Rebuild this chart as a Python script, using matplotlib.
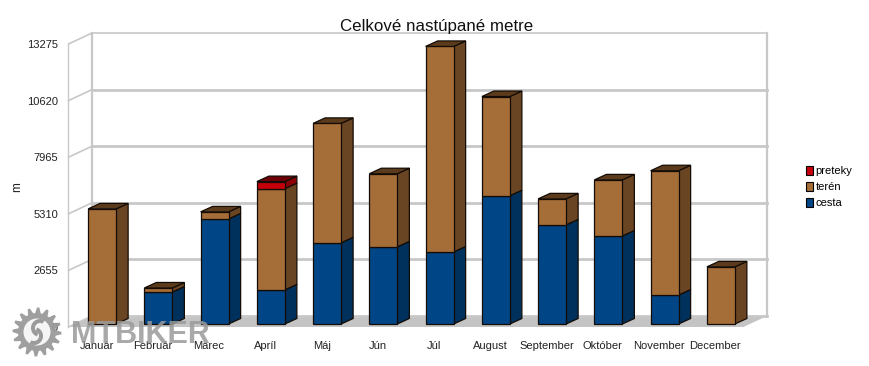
import numpy as np
import matplotlib
matplotlib.use("Agg")
import matplotlib.pyplot as plt
from matplotlib.patches import Polygon, Patch, Circle, Wedge

plt.rcParams["font.family"] = ["Liberation Sans", "DejaVu Sans"]

months = ["Január", "Február", "Marec", "Apríl", "Máj", "Jún", "Júl", "August",
          "September", "Október", "November", "December"]
cesta = [0, 1500, 4930, 1600, 3810, 3620, 3380, 6020, 4650, 4130, 1360, 0]
teren = [5400, 190, 330, 4750, 5600, 3430, 9640, 4650, 1220, 2630, 5830, 2680]
preteky = [0, 0, 0, 330, 0, 0, 0, 0, 0, 0, 0, 0]
y_ticks = [0, 2655, 5310, 7965, 10620, 13275]

W, H = 870, 366
LEFT, RIGHT, TOP, BOTTOM = 68.5, 743.5, 44, 327
PX_X = 12 / (RIGHT - LEFT)          # one pixel in category units
PX_Y = 13275 / (BOTTOM - TOP)       # one pixel in metres

fig = plt.figure(figsize=(W / 100, H / 100), dpi=100)
ax = fig.add_axes([LEFT / W, 1 - BOTTOM / H, (RIGHT - LEFT) / W, (BOTTOM - TOP) / H])
ax.set_xlim(-0.5, 11.5)
ax.set_ylim(0, 13275)
for s in ax.spines.values():
    s.set_visible(False)

wall = "#c8c8c8"
back_x, back_y = 23.5 * PX_X, 11 * PX_Y
x0, x1 = -0.5, 11.5

# walls and floor
ax.add_patch(Polygon([(x0, 0), (x1, 0), (x1 + back_x, back_y), (x0 + back_x, back_y)],
                     fc="#c4c4c4", ec="none", clip_on=False, zorder=1))
for v in y_ticks:
    lw = 1.2 if v == 13275 else 2
    ax.plot([x0 + back_x, x1 + back_x], [v + back_y] * 2, color=wall, lw=lw, clip_on=False, zorder=2)
    ax.plot([x0, x0 + back_x], [v, v + back_y], color=wall, lw=1.2, clip_on=False, zorder=2)
ax.plot([x0, x0], [0, 13275], color=wall, lw=1, clip_on=False, zorder=2)
ax.plot([x0 + back_x] * 2, [back_y, 13275 + back_y], color=wall, lw=1.6, clip_on=False, zorder=2)
ax.plot([x1 + back_x] * 2, [back_y, 13275 + back_y], color=wall, lw=1.6, clip_on=False, zorder=2)

# bars
series = [(cesta, "#004586", "#00305c", "#00284e"),
          (teren, "#a56d37", "#6a4523", "#5c3b1d"),
          (preteky, "#c5000b", "#8c0008", "#6e0006")]
bar_w = 28 * PX_X
off_x, off_y = 5.5 * PX_X, 3 * PX_Y
depth_x, depth_y = 12 * PX_X, 5.5 * PX_Y
for i in range(len(months)):
    base = 0
    left = i + off_x - bar_w / 2
    right = left + bar_w
    segs = [(s[0][i], s[1], s[2], s[3]) for s in series if s[0][i] > 0]
    for j, (val, front, side, top) in enumerate(segs):
        y0, y1 = base + off_y, base + val + off_y
        ax.add_patch(Polygon([(right, y0), (right, y1), (right + depth_x, y1 + depth_y), (right + depth_x, y0 + depth_y)],
                             fc=side, ec="#140c04", lw=0.9, clip_on=False, zorder=3 + i))
        ax.bar(i + off_x, val, bar_w, bottom=y0, color=front, edgecolor="#140c04", lw=0.9,
               clip_on=False, zorder=3 + i)
        if j == len(segs) - 1:
            ax.add_patch(Polygon([(left, y1), (right, y1), (right + depth_x, y1 + depth_y), (left + depth_x, y1 + depth_y)],
                                 fc=top, ec="#140c04", lw=0.9, clip_on=False, zorder=3 + i))
        base += val

ax.set_xticks(range(len(months)))
ax.set_xticklabels(months, fontsize=8, color="#222222")
ax.set_yticks(y_ticks)
ax.set_yticklabels([str(v) for v in y_ticks], fontsize=8, color="#222222")
ax.tick_params(axis="x", length=0, pad=10)
ax.tick_params(axis="y", length=0, pad=7.5)

fig.text(436.5 / W, 1 - 27 / H, "Celkové nastúpané metre", fontsize=12.2, ha="center", va="center", color="#111111")
fig.text(17 / W, 1 - 187 / H, "m", fontsize=8.5, rotation=90, ha="center", va="center", color="#222222")

handles = [Patch(fc="#c5000b", ec="black", lw=0.8, label="preteky"),
           Patch(fc="#a56d37", ec="black", lw=0.8, label="terén"),
           Patch(fc="#004586", ec="black", lw=0.8, label="cesta")]
fig.legend(handles=handles, loc="upper left", bbox_to_anchor=(803.5 / W, 1 - 164 / H), frameon=False,
           fontsize=8, handlelength=0.65, handleheight=0.8, handletextpad=0.25, labelspacing=0.52,
           borderpad=0.2, borderaxespad=0)

# MTBIKER watermark
wm = fig.add_axes([0, 0, 1, 1], facecolor="none")
wm.set_xlim(0, W)
wm.set_ylim(H, 0)
wm.axis("off")
grey = "#9a9a9a"
cx, cy = 37, 332
angles = np.linspace(0, 2 * np.pi, 16 * 4, endpoint=False)
radii = np.tile([24.5, 24.5, 19, 19], 16)
wm.add_patch(Polygon(np.c_[cx + radii * np.cos(angles), cy + radii * np.sin(angles)], fc=grey, ec="none", alpha=0.95))
wm.add_patch(Circle((cx, cy), 13.5, fc="white", ec="none", alpha=0.9))
wm.add_patch(Wedge((cx + 3, cy - 4), 9, 110, 300, width=4, fc=grey, ec="none"))
wm.add_patch(Wedge((cx - 3, cy + 4), 9, 290, 120, width=4, fc=grey, ec="none"))
wm.text(71, 343, "MTBIKER", fontsize=22, fontweight="bold", color=grey, alpha=0.85, ha="left", va="baseline")

fig.savefig("out.png", dpi=100)
